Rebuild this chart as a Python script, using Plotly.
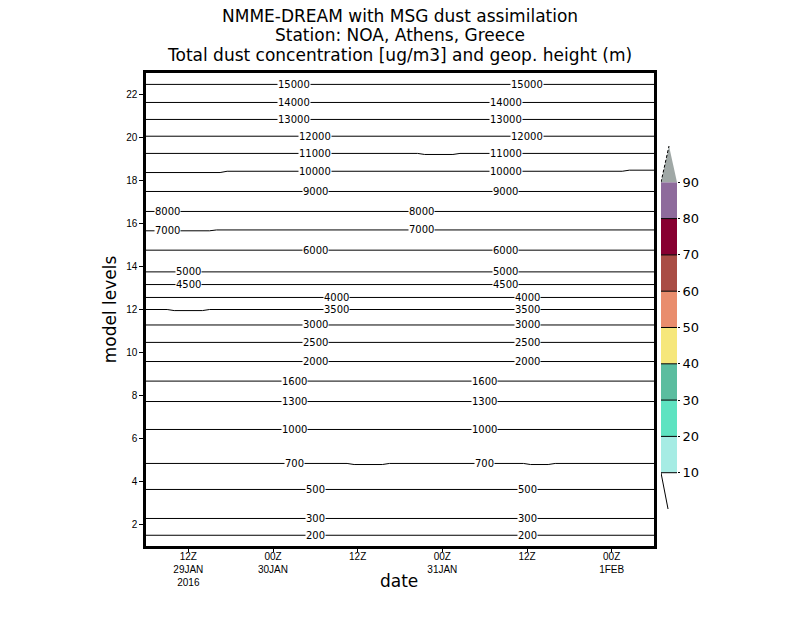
import numpy as np
import pandas as pd
import plotly.graph_objects as go

# ---------------- data ----------------
start_time = pd.Timestamp("2016-01-29 06:00")
end_time = pd.Timestamp("2016-02-01 06:00")

geop_values = [200, 300, 500, 700, 1000, 1300, 1600, 2000, 2500, 3000, 3500, 4000,
               4500, 5000, 6000, 7000, 8000, 9000, 10000, 11000, 12000, 13000, 14000, 15000]
# model-level position of each geopotential height contour
contour_levels = [1.50, 2.28, 3.63, 4.84, 6.42, 7.72, 8.67, 9.58, 10.47, 11.28, 12.00, 12.56,
                  13.16, 13.75, 14.76, 15.66, 16.56, 17.49, 18.37, 19.26, 20.06, 20.84, 21.63, 22.47]
# small wiggles of some contours: (hours after 06Z 29JAN, model level)
contour_wiggles = {
    700: [(0, 4.84), (28.5, 4.84), (29.5, 4.79), (33.5, 4.79), (34.5, 4.84),
          (53.5, 4.84), (54.5, 4.79), (57, 4.79), (58, 4.84), (72, 4.84)],
    3500: [(0, 12.0), (3, 12.0), (4, 11.95), (8, 11.95), (9, 12.0), (72, 12.0)],
    7000: [(0, 15.66), (9, 15.66), (10, 15.70), (72, 15.70)],
    10000: [(0, 18.37), (10.5, 18.37), (11.5, 18.43), (67.5, 18.43), (68.5, 18.48), (72, 18.48)],
    11000: [(0, 19.26), (38.5, 19.26), (39.5, 19.21), (43.5, 19.21), (44.5, 19.26), (72, 19.26)],
}
# contour label positions (hours after 06Z 29JAN)
label_hours_a = [24, 24, 24, 21, 21, 21, 21, 24, 24, 24, 27, 27, 6, 6, 24, 3, 3, 24, 24, 24, 24, 21, 21, 21]
label_hours_b = [54, 54, 54, 48, 48, 48, 48, 54, 54, 54, 54, 54, 51, 51, 51, 39, 39, 51, 51, 51, 54, 51, 51, 54]

x_tickvals = ["2016-01-29 12:00", "2016-01-30 00:00", "2016-01-30 12:00",
              "2016-01-31 00:00", "2016-01-31 12:00", "2016-02-01 00:00"]
x_ticktext = ["12Z<br>29JAN<br>2016", "00Z<br>30JAN", "12Z", "00Z<br>31JAN", "12Z", "00Z<br>1FEB"]
y_tickvals = [2, 4, 6, 8, 10, 12, 14, 16, 18, 20, 22]

# dust concentration shading legend
cbar_levels = [10, 20, 30, 40, 50, 60, 70, 80, 90]
cbar_colors = ["#a6ece4", "#5ee3c1", "#5bbd9f", "#f6e77b", "#e98d6d",
               "#a94d45", "#870031", "#8e6b9c"]
cbar_over_color = "#a0a8a6"

title_lines = ["NMME-DREAM with MSG dust assimilation",
               "Station: NOA, Athens, Greece",
               "Total dust concentration [ug/m3] and geop. height (m)"]

# ---------------- figure ----------------
def hours_to_time(h):
    return start_time + pd.to_timedelta(np.asarray(h, dtype=float), unit="h")

fig = go.Figure()
annotations = []
for i, g in enumerate(geop_values):
    knots = contour_wiggles.get(g, [(0, contour_levels[i]), (72, contour_levels[i])])
    hh = [k[0] for k in knots]
    ll = [k[1] for k in knots]
    fig.add_trace(go.Scatter(x=hours_to_time(hh), y=ll, mode="lines",
                             line=dict(color="black", width=1), showlegend=False,
                             hoverinfo="skip"))
    for lh in (label_hours_a[i], label_hours_b[i]):
        annotations.append(dict(x=hours_to_time([lh])[0], y=float(np.interp(lh, hh, ll)),
                                xref="x", yref="y", text=str(g), showarrow=False,
                                bgcolor="white", borderpad=0,
                                font=dict(family="DejaVu Sans", size=10, color="black")))

# colour legend on its own small axes
fig.add_trace(go.Bar(x=[0.5] * len(cbar_colors), y=list(np.diff(cbar_levels)),
                     base=cbar_levels[:-1], width=1, marker=dict(color=cbar_colors, line=dict(width=0)),
                     xaxis="x2", yaxis="y2", showlegend=False, hoverinfo="skip"))
fig.add_trace(go.Scatter(x=[0, 0.5, 1, 0], y=[90, 100, 90, 90], fill="toself",
                         fillcolor=cbar_over_color, line=dict(width=0), mode="lines",
                         xaxis="x2", yaxis="y2", showlegend=False, hoverinfo="skip"))
fig.add_trace(go.Scatter(x=[0, 0.5], y=[90, 100], mode="lines",
                         line=dict(color="black", width=1, dash="3px,2px"),
                         xaxis="x2", yaxis="y2", showlegend=False, hoverinfo="skip"))
fig.add_trace(go.Scatter(x=[0, 0.44], y=[10, 0], mode="lines",
                         line=dict(color="black", width=1),
                         xaxis="x2", yaxis="y2", showlegend=False, hoverinfo="skip"))
sep_x, sep_y = [], []
for v in cbar_levels[:-1]:
    sep_x += [0, 1, None]
    sep_y += [v, v, None]
fig.add_trace(go.Scatter(x=sep_x, y=sep_y, mode="lines", line=dict(color="black", width=1),
                         xaxis="x2", yaxis="y2", showlegend=False, hoverinfo="skip"))

# titles
title_y = [1.1205, 1.0793, 1.0380]
for t, yy in zip(title_lines, title_y):
    annotations.append(dict(x=0.4425, y=yy, xref="paper", yref="paper", text=t,
                            showarrow=False, xanchor="center", yanchor="middle",
                            font=dict(family="DejaVu Sans", size=17, color="black")))
annotations.append(dict(x=0.4416, y=-0.074, xref="paper", yref="paper", text="date",
                        showarrow=False, xanchor="center", yanchor="middle",
                        font=dict(family="DejaVu Sans", size=17, color="black")))

fig.update_layout(
    width=800, height=618,
    margin=dict(l=146, r=80, t=73, b=72),
    paper_bgcolor="white", plot_bgcolor="white",
    hovermode=False, showlegend=False, barmode="overlay",
    annotations=annotations,
    xaxis=dict(domain=[0, 0.88502], type="date",
               range=[start_time, end_time],
               tickvals=x_tickvals, ticktext=x_ticktext,
               ticks="outside", ticklen=3, tickcolor="black",
               ticklabelstandoff=-4,
               showline=True, mirror=True, linewidth=2.5, linecolor="black",
               showgrid=False, zeroline=False,
               tickfont=dict(family="Liberation Sans", size=10, color="black")),
    yaxis=dict(range=[1, 23], tickvals=y_tickvals,
               ticks="outside", ticklen=4, tickcolor="black",
               showline=True, mirror=True, linewidth=2.5, linecolor="black",
               showgrid=False, zeroline=False,
               title=dict(text="model levels", standoff=6,
                          font=dict(family="DejaVu Sans", size=17, color="black")),
               tickfont=dict(family="Liberation Sans", size=10, color="black")),
    xaxis2=dict(domain=[0.8972, 0.9251], range=[0, 1], visible=False, anchor="y2",
                fixedrange=True),
    yaxis2=dict(domain=[0.0782, 0.8457], range=[0, 100], anchor="x2", side="right",
                tickvals=cbar_levels, ticks="outside", ticklen=2, tickcolor="black",
                showline=False, showgrid=False, zeroline=False,
                tickfont=dict(family="DejaVu Sans", size=13, color="black")),
)

fig.write_html("out.html", config={"displayModeBar": False},
               post_script="document.body.style.margin='0px';")
